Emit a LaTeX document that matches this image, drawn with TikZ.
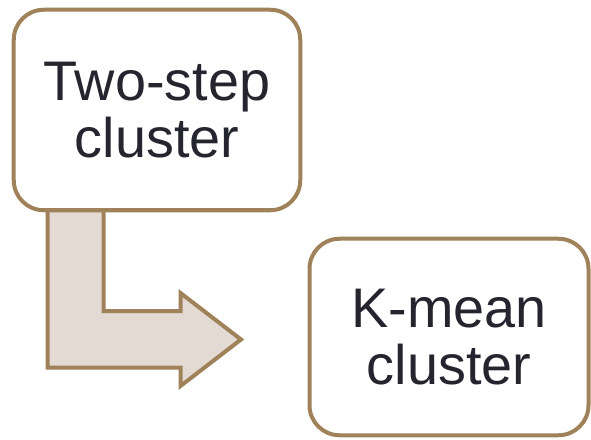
\documentclass[tikz,border=0pt]{standalone}
\usepackage{fontspec}
\setmainfont{Liberation Sans}
\usepackage{xcolor}
\definecolor{FrameBrown}{HTML}{A0825A}
\definecolor{ArrowBeige}{HTML}{E2DAD3}
\definecolor{InkDark}{HTML}{25252F}
\usepackage{tikz}
\usetikzlibrary{positioning}

\begin{document}
\begin{tikzpicture}[
  x=1bp,y=-1bp,
  method/.style={draw=FrameBrown,line width=4bp,rounded corners=30bp,fill=white,align=center,
    text=InkDark,font=\fontsize{56}{57}\selectfont},
  bentarrow/.style={draw=FrameBrown,line width=4bp,fill=ArrowBeige,line join=miter}
]
\useasboundingbox (0,0) rectangle (591,440);

% bent block arrow (drawn first, sits under the first box)
\draw[bentarrow] (47.5,205) -- (103.5,205) -- (103.5,311) -- (180.5,311) -- (180.5,293)
  -- (241,339.5) -- (180.5,386) -- (180.5,367.5) -- (47.5,367.5) -- cycle;

\node[method,minimum width=286.5bp,minimum height=200.5bp] (twostep) at (157,110) {Two-step\\cluster};
\node[method,minimum width=279bp,minimum height=196.5bp] (kmean) at (449,337) {K-mean\\cluster};
\end{tikzpicture}
\end{document}
